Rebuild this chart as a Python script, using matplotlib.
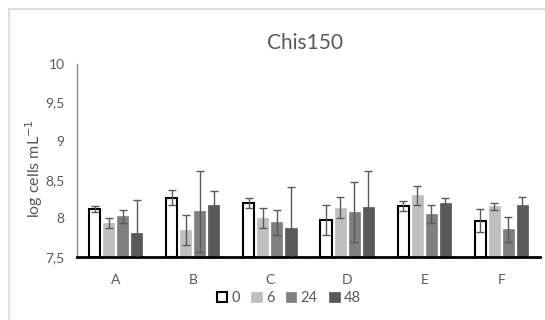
"""
Grouped bar chart of log cell counts for Chis150 at four sampling times.
"""

import numpy as np
import matplotlib
matplotlib.use("Agg")
import matplotlib.pyplot as plt
from matplotlib.patches import Patch, Rectangle
from matplotlib.ticker import FuncFormatter

plt.rcParams['font.family'] = ['Lato', 'DejaVu Sans']

TEXT_COLOR = "#595959"

categories = ["A", "B", "C", "D", "E", "F"]
times = ["0", "6", "24", "48"]

# Mean log cells per mL, one list per sampling time (h).
means = {
    "0":  [8.12, 8.27, 8.20, 7.98, 8.16, 7.97],
    "6":  [7.94, 7.85, 8.01, 8.14, 8.30, 8.16],
    "24": [8.03, 8.09, 7.95, 8.08, 8.06, 7.86],
    "48": [7.81, 8.18, 7.88, 8.15, 8.20, 8.17],
}
# Standard deviations.
errors = {
    "0":  [0.04, 0.10, 0.06, 0.19, 0.06, 0.15],
    "6":  [0.065, 0.20, 0.13, 0.14, 0.12, 0.045],
    "24": [0.085, 0.53, 0.16, 0.39, 0.12, 0.16],
    "48": [0.43, 0.17, 0.53, 0.46, 0.07, 0.11],
}

FILL = {"0": "white", "6": "#BFBFBF", "24": "#7F7F7F", "48": "#595959"}
EDGE = {"0": "black", "6": "#BFBFBF", "24": "#7F7F7F", "48": "#595959"}

SPACING = 0.182
WIDTH = 0.143


def comma_fmt(v, pos):
    s = f"{v:g}"
    return s.replace(".", ",")


def main():
    fig = plt.figure(figsize=(5.45, 3.2), dpi=100)

    # Light frame around the chart area.
    fig.patches.append(Rectangle((9 / 545, -0.1), 1.2, 1 - 9 / 320 + 0.1,
                                 transform=fig.transFigure, fill=False,
                                 edgecolor="#D9D9D9", linewidth=1.2))

    ax = fig.add_axes([77 / 545, 63 / 320, 463 / 545, 193 / 320])
    x = np.arange(len(categories))

    for j, t in enumerate(times):
        pos = x + (j - 1.5) * SPACING
        lw = 1.5 if t == "0" else 0.5
        ax.bar(pos, np.array(means[t]) - 7.5, bottom=7.5, width=WIDTH,
               color=FILL[t], edgecolor=EDGE[t], linewidth=lw, zorder=2)
        ax.errorbar(pos, means[t], yerr=errors[t], fmt="none",
                    ecolor="#595959", elinewidth=1, capsize=3, capthick=1,
                    zorder=3)

    ax.set_ylim(7.5, 10)
    ax.set_xlim(-0.5, len(categories) - 0.5)
    ax.set_yticks(np.arange(7.5, 10.01, 0.5))
    ax.yaxis.set_major_formatter(FuncFormatter(comma_fmt))
    ax.set_xticks(x)
    ax.set_xticklabels(categories)
    ax.tick_params(axis="both", length=0, labelsize=10, colors=TEXT_COLOR)
    ax.tick_params(axis="x", pad=12)
    ax.tick_params(axis="y", pad=9)

    for side in ("top", "right"):
        ax.spines[side].set_visible(False)
    ax.spines["left"].set_color("#868686")
    ax.spines["left"].set_linewidth(1.0)
    ax.spines["bottom"].set_color("black")
    ax.spines["bottom"].set_linewidth(2.0)

    ax.set_ylabel("log cells mL$^{-1}$", fontsize=11.5, color=TEXT_COLOR)
    ax.yaxis.set_label_coords(-0.07, 0.46)
    fig.text(0.56, 0.865, "Chis150", ha="center", va="center",
             fontsize=15, color=TEXT_COLOR)

    handles = [Patch(facecolor=FILL[t], edgecolor=EDGE[t],
                     linewidth=1.5 if t == "0" else 0.5) for t in times]
    fig.legend(handles, times, loc="center", bbox_to_anchor=(0.53, 0.068),
               ncol=4, frameon=False, fontsize=10.5, handlelength=0.7,
               handleheight=0.7, handletextpad=0.3, columnspacing=0.8,
               labelcolor=TEXT_COLOR)

    fig.savefig("out.png", dpi=100)


if __name__ == "__main__":
    main()
